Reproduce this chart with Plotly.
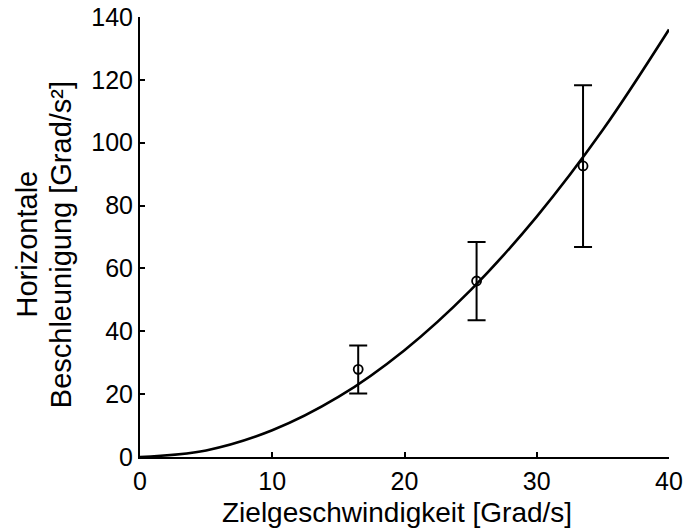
import plotly.graph_objects as go

# Measured means with asymmetric error bars
speed = [16.5, 25.45, 33.5]
accel = [27.9, 56.0, 92.6]
err_plus = [7.6, 12.4, 25.7]
err_minus = [7.7, 12.5, 25.8]

# Fitted curve sampled along target speed
fit_speed = [0, 5, 10, 15, 20, 25, 30, 35, 40]
fit_accel = [0, 2.1, 8.5, 19.1, 34.0, 53.1, 76.5, 104.1, 136.0]

x_ticks = [0, 10, 20, 30, 40]
y_ticks = [0, 20, 40, 60, 80, 100, 120, 140]

FONT = "Liberation Sans, Arial, Helvetica, sans-serif"

fig = go.Figure()

fig.add_trace(go.Scatter(
    x=fit_speed, y=fit_accel, mode="lines",
    line=dict(color="black", width=2.6, shape="spline", smoothing=1.0),
    hoverinfo="skip", showlegend=False, cliponaxis=False,
))

fig.add_trace(go.Scatter(
    x=speed, y=accel, mode="markers",
    marker=dict(symbol="circle-open", size=9, color="black", line=dict(width=1.8)),
    error_y=dict(type="data", symmetric=False, array=err_plus, arrayminus=err_minus,
                 color="black", thickness=2, width=9),
    showlegend=False,
))

axis_common = dict(
    showline=True, linecolor="black", linewidth=2,
    ticks="inside", ticklen=5, tickwidth=1.5, tickcolor="black",
    showgrid=False, zeroline=False, mirror=False, automargin=False,
    tickfont=dict(family=FONT, size=25, color="black"),
)

fig.update_xaxes(range=[0, 40], tickvals=x_ticks, ticktext=[str(v) for v in x_ticks],
                 ticklabelstandoff=1, **axis_common)
fig.update_yaxes(range=[0, 140], tickvals=y_ticks, ticktext=[str(v) for v in y_ticks],
                 **axis_common)

fig.add_annotation(
    text="Zielgeschwindigkeit [Grad/s]", xref="paper", yref="paper",
    x=0.485, y=-0.126, xanchor="center", yanchor="middle", showarrow=False,
    font=dict(family=FONT, size=28, color="black"),
)
fig.add_annotation(
    text="Horizontale", xref="paper", yref="paper", textangle=-90,
    x=-0.2136, y=0.483, xanchor="center", yanchor="middle", showarrow=False,
    font=dict(family=FONT, size=29, color="black"),
)
fig.add_annotation(
    text="Beschleunigung [Grad/s²]", xref="paper", yref="paper", textangle=-90,
    x=-0.148, y=0.483, xanchor="center", yanchor="middle", showarrow=False,
    font=dict(family=FONT, size=29, color="black"),
)

fig.update_layout(
    width=685, height=529,
    margin=dict(l=140, r=16, t=17, b=72),
    paper_bgcolor="white", plot_bgcolor="white",
    font=dict(family=FONT, color="black"),
)

fig.write_html("out.html")
